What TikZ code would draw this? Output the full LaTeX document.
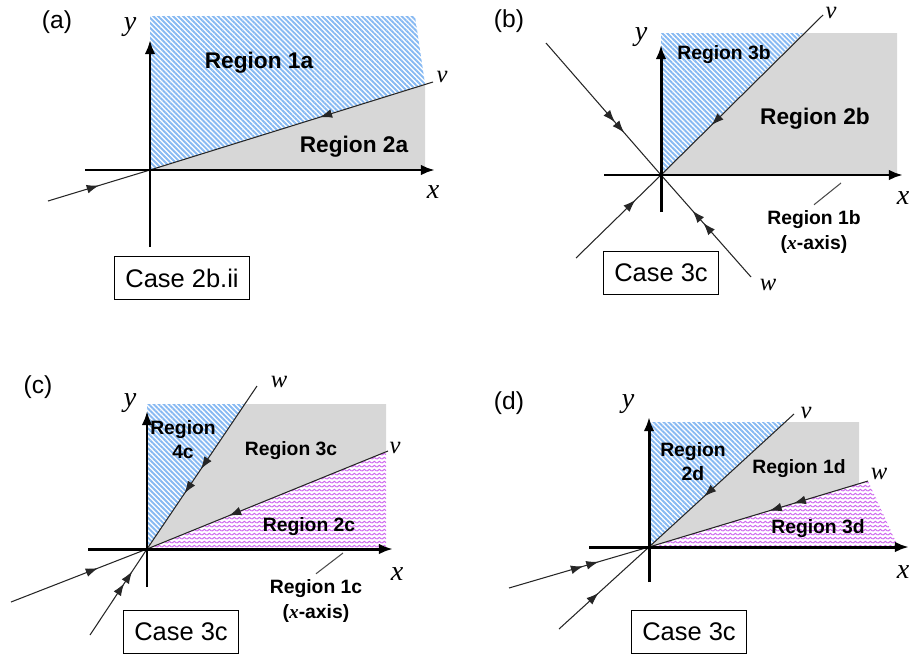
\documentclass[tikz,border=0pt]{standalone}
\usepackage{fontspec}
\setmainfont{Liberation Sans}
\newfontfamily\timesfont{Liberation Serif}
\newcommand\mvar[1]{{\timesfont\itshape #1}}
\usetikzlibrary{arrows.meta,decorations.markings,patterns.meta}

\definecolor{hatchblue}{RGB}{135,185,242}
\definecolor{regiongrey}{RGB}{215,215,215}
\definecolor{wavepink}{RGB}{205,100,238}

\tikzdeclarepattern{
  name=zigzag,
  type=uncolored,
  bottom left={(0pt,0pt)},
  top right={(3pt,2.4pt)},
  tile size={(3pt,2.4pt)},
  code={\draw[line width=0.65pt] (0pt,0.6pt) -- (1.5pt,1.8pt) -- (3pt,0.6pt);}
}

\tikzset{
  >={Latex[length=7pt,width=5pt]},
  axis/.style={line width=1.7pt, -{Latex[length=8pt,width=6pt]}},
  ray/.style={line width=0.6pt, black!85},
  flow/.style={ray, postaction={decorate},
    decoration={markings, mark=at position #1 with {\arrow{>}}}},
  flowtwo/.style 2 args={ray, postaction={decorate},
    decoration={markings, mark=at position #1 with {\arrow{>}},
      mark=at position #2 with {\arrow{>}}}},
  bluezone/.style={pattern={Lines[angle=-45,distance=2pt,line width=1.1pt]}, pattern color=hatchblue},
  greyzone/.style={fill=regiongrey},
  pinkzone/.style={pattern=zigzag, pattern color=wavepink},
  bigregion/.style={font=\fontsize{12.9}{14}\selectfont\bfseries},
  region/.style={font=\fontsize{11}{13.7}\selectfont\bfseries, align=center},
  panel/.style={font=\fontsize{14}{16}\selectfont},
  axislabel/.style={font=\fontsize{16}{18}\selectfont\timesfont\itshape},
  raylabel/.style={font=\fontsize{14}{16}\selectfont\timesfont\itshape},
  casebox/.style={draw, line width=0.6pt, font=\fontsize{14.5}{16}\selectfont,
    inner xsep=0.22cm, minimum height=0.85cm},
  leader/.style={line width=0.6pt, black!70},
}

\begin{document}
\begin{tikzpicture}[x=0.02cm, y=-0.02cm]
\useasboundingbox (0,0) rectangle (912,653);

% (a)
\coordinate (Oa) at (150,170);
\coordinate (Va) at (433,82);
\coordinate (Ia) at (48,201);
\coordinate (xa0) at (85,170);
\coordinate (xa1) at (435,170);
\coordinate (ya0) at (150,247);
\coordinate (ya1) at (150,40);
\fill[bluezone] (Oa) -- (150,16) -- (415,16) -- (425,84) -- cycle;
\fill[greyzone] (Oa) -- (425,84) -- (425,170) -- cycle;
\draw[flow=0.5] (Ia) -- (Oa);
\draw[flow=0.4] (Va) -- (Oa);
\draw[axis] (xa0) -- (xa1);
\draw[axis] (ya0) -- (ya1);
\node[panel] (labela) at (57,22) {(a)};
\node[axislabel] (ylaba) at (130,27) {y};
\node[axislabel] (xlaba) at (433,192) {x};
\node[raylabel] (vlaba) at (442,77) {v};
\node[bigregion] (r1a) at (259,63) {Region 1a};
\node[bigregion] (r2a) at (354,147) {Region 2a};
\node[casebox] (casea) at (182,278) {Case 2b.ii};

% (b)
\coordinate (Ob) at (661,175);
\coordinate (Vb) at (823,15);
\coordinate (Ib) at (576,258);
\coordinate (Wb0) at (546,43);
\coordinate (Wb1) at (751,277);
\coordinate (xb0) at (604,175);
\coordinate (xb1) at (903,175);
\coordinate (yb0) at (661,212);
\coordinate (yb1) at (661,45);
\fill[bluezone] (Ob) -- (661,33) -- (803,33) -- cycle;
\fill[greyzone] (Ob) -- (803,33) -- (897,33) -- (897,175) -- cycle;
\draw[flowtwo={0.6}{0.68}] (Wb0) -- (Ob);
\draw[flowtwo={0.53}{0.65}] (Wb1) -- (Ob);
\draw[flow=0.69] (Vb) -- (Ob);
\draw[flow=0.7] (Ib) -- (Ob);
\draw[axis] (xb0) -- (xb1);
\draw[axis] (yb0) -- (yb1);
\node[panel] (labelb) at (509,21) {(b)};
\node[axislabel] (ylabb) at (641,37) {y};
\node[axislabel] (xlabb) at (903,198) {x};
\node[raylabel] (vlabb) at (831,13) {v};
\node[raylabel] (wlabb) at (768,285) {w};
\node[region] (r3b) at (724,55) {Region 3b};
\node[bigregion] (r2b) at (815,119) {Region 2b};
\node[region] (r1b) at (814,232) {Region 1b\\(\mvar{x}-axis)};
\coordinate (tipb) at (841,183);
\draw[leader] (tipb) -- (r1b.north);
\node[casebox] (caseb) at (661,273) {Case 3c};

% (c)
\coordinate (Oc) at (147,549);
\coordinate (Vc) at (388,451);
\coordinate (Ic) at (11,602);
\coordinate (Wc0) at (257,386);
\coordinate (Wc1) at (90,635);
\coordinate (xc0) at (88,549);
\coordinate (xc1) at (393,549);
\coordinate (yc0) at (147,587);
\coordinate (yc1) at (147,411);
\fill[bluezone] (Oc) -- (147,404) -- (245,404) -- cycle;
\fill[greyzone] (Oc) -- (245,404) -- (386,404) -- (386,452) -- cycle;
\fill[pinkzone] (Oc) -- (386,452) -- (386,549) -- cycle;
\draw[flowtwo={0.51}{0.66}] (Wc0) -- (Oc);
\draw[flow=0.66] (Vc) -- (Oc);
\draw[flow=0.64] (Ic) -- (Oc);
\draw[flowtwo={0.6}{0.74}] (Wc1) -- (Oc);
\draw[axis] (xc0) -- (xc1);
\draw[axis] (yc0) -- (yc1);
\node[panel] (labelc) at (38,387) {(c)};
\node[axislabel] (ylabc) at (130,403) {y};
\node[axislabel] (xlabc) at (397,574) {x};
\node[raylabel] (vlabc) at (395,448) {v};
\node[raylabel] (wlabc) at (279,382) {w};
\node[region] (r4c) at (183,440) {Region\\4c};
\node[region] (r3c) at (291,451) {Region 3c};
\node[region] (r2c) at (309,527) {Region 2c};
\node[region] (r1c) at (316,601) {Region 1c\\(\mvar{x}-axis)};
\coordinate (tipc) at (343,553);
\draw[leader] (tipc) -- (r1c.north);
\node[casebox] (casec) at (181,632) {Case 3c};

% (d)
\coordinate (Od) at (649,547);
\coordinate (Vd) at (794,414);
\coordinate (Id) at (559,629);
\coordinate (Wd0) at (868,481);
\coordinate (Wd1) at (509,588);
\coordinate (xd0) at (589,547);
\coordinate (xd1) at (909,547);
\coordinate (yd0) at (649,582);
\coordinate (yd1) at (649,417);
\fill[bluezone] (Od) -- (649,422) -- (785,422) -- cycle;
\fill[greyzone] (Od) -- (785,422) -- (859,422) -- (859,484) -- cycle;
\fill[pinkzone] (Od) -- (Wd0) -- (896,542) -- (896,547) -- cycle;
\draw[flow=0.62] (Vd) -- (Od);
\draw[flow=0.44] (Id) -- (Od);
\draw[flowtwo={0.34}{0.45}] (Wd0) -- (Od);
\draw[flowtwo={0.53}{0.64}] (Wd1) -- (Od);
\draw[axis] (xd0) -- (xd1);
\draw[axis] (yd0) -- (yd1);
\node[panel] (labeld) at (509,403) {(d)};
\node[axislabel] (ylabd) at (628,404) {y};
\node[axislabel] (xlabd) at (903,572) {x};
\node[raylabel] (vlabd) at (806,413) {v};
\node[raylabel] (wlabd) at (879,474) {w};
\node[region] (r2d) at (693,462) {Region\\2d};
\node[region] (r1d) at (799,469) {Region 1d};
\node[region] (r3d) at (818,529) {Region 3d};
\node[casebox] (cased) at (689,632) {Case 3c};
\end{tikzpicture}
\end{document}
